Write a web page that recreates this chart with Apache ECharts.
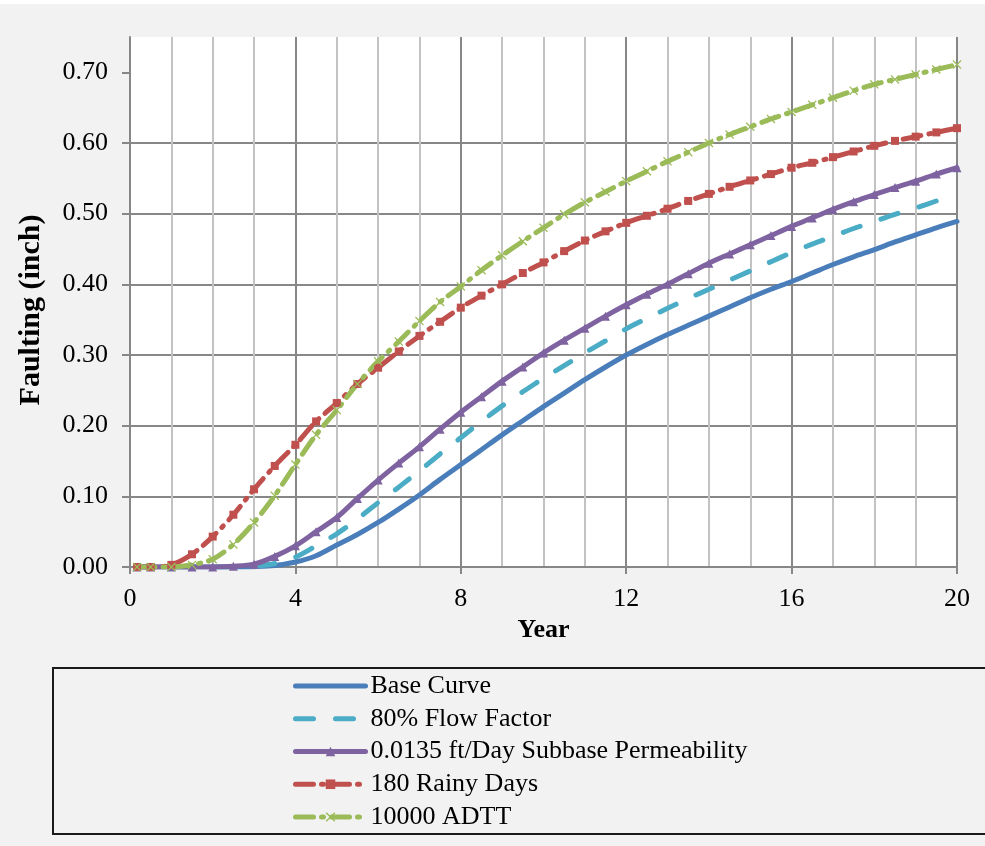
<!DOCTYPE html>
<html>
<head>
<meta charset="utf-8">
<script src="https://cdn.jsdelivr.net/npm/echarts@6/dist/echarts.min.js"></script>
<style>
html,body{margin:0;padding:0;background:#ffffff;width:985px;height:846px;overflow:hidden;}
#chart{position:absolute;left:0;top:4px;width:985px;height:842px;}
</style>
</head>
<body>
<div id="chart"></div>
<script>
// ---- data ----
var years = [0.17, 0.5, 1, 1.5, 2, 2.5, 3, 3.5, 4, 4.5, 5, 5.5, 6, 6.5, 7, 7.5, 8, 8.5, 9, 9.5, 10,
             10.5, 11, 11.5, 12, 12.5, 13, 13.5, 14, 14.5, 15, 15.5, 16, 16.5, 17, 17.5, 18, 18.5, 19, 19.5, 20];

var baseCurve = [0, 0, 0, 0, 0, 0, 0.0005, 0.002, 0.007, 0.016, 0.031, 0.046, 0.063, 0.082, 0.102, 0.124, 0.145, 0.166, 0.187, 0.207, 0.227,
                 0.246, 0.265, 0.283, 0.300, 0.315, 0.329, 0.342, 0.355, 0.368, 0.381, 0.393, 0.404, 0.416, 0.428, 0.439, 0.449, 0.460, 0.470, 0.480, 0.489];

var flowFactor80 = [0, 0, 0, 0, 0, 0, 0.001, 0.005, 0.014, 0.030, 0.047, 0.068, 0.091, 0.113, 0.136, 0.160, 0.183, 0.206, 0.228, 0.248, 0.267,
                    0.285, 0.303, 0.320, 0.337, 0.352, 0.366, 0.380, 0.393, 0.406, 0.419, 0.432, 0.445, 0.457, 0.468, 0.479, 0.489, 0.499, 0.508, 0.518, 0.528];

var subbasePerm = [0, 0, 0, 0, 0, 0.001, 0.004, 0.015, 0.030, 0.050, 0.070, 0.097, 0.123, 0.147, 0.170, 0.195, 0.219, 0.241, 0.263, 0.283, 0.303,
                   0.321, 0.338, 0.355, 0.371, 0.386, 0.400, 0.415, 0.430, 0.443, 0.456, 0.469, 0.482, 0.494, 0.506, 0.517, 0.527, 0.537, 0.546, 0.556, 0.565];

var rainyDays180 = [0, 0, 0.003, 0.018, 0.043, 0.074, 0.110, 0.143, 0.173, 0.206, 0.232, 0.259, 0.282, 0.305, 0.327, 0.347, 0.367, 0.384, 0.400, 0.416, 0.431,
                    0.447, 0.462, 0.475, 0.487, 0.497, 0.507, 0.518, 0.528, 0.538, 0.547, 0.556, 0.565, 0.572, 0.580, 0.588, 0.596, 0.603, 0.609, 0.615, 0.621];

var adtt10000 = [0, 0, 0, 0.003, 0.011, 0.032, 0.063, 0.101, 0.145, 0.187, 0.222, 0.259, 0.291, 0.319, 0.348, 0.375, 0.397, 0.420, 0.441, 0.461, 0.480,
                 0.499, 0.516, 0.531, 0.546, 0.560, 0.574, 0.587, 0.600, 0.612, 0.623, 0.634, 0.644, 0.654, 0.664, 0.674, 0.683, 0.690, 0.697, 0.704, 0.711];

var seriesNames = ['Base Curve', '80% Flow Factor', '0.0135 ft/Day Subbase Permeability', '180 Rainy Days', '10000 ADTT'];
var yTickValues = [0, 0.1, 0.2, 0.3, 0.4, 0.5, 0.6, 0.7];
var xTickValues = [0, 4, 8, 12, 16, 20];

// ---- chart ----
function pairs(arr) { return years.map(function (t, i) { return [t, arr[i]]; }); }

var FONT = '"Times New Roman", "Liberation Serif", serif';
var MAJOR = '#878787';
var MINOR = '#c3c3c3';
var LW = 5;
var X_SYMBOL = 'path://M1,0L5,4L9,0L10,1L6,5L10,9L9,10L5,6L1,10L0,9L4,5L0,1Z';
var HIDDEN_MARK = { color: 'rgba(0,0,0,0)', borderWidth: 0, opacity: 0 };

var chart = echarts.init(document.getElementById('chart'), null, { renderer: 'canvas' });

var option = {
  backgroundColor: '#f2f2f2',
  animation: false,
  textStyle: { fontFamily: FONT },
  grid: {
    left: 130, right: 28, top: 33, bottom: 279,
    show: true, backgroundColor: '#ffffff', borderWidth: 0
  },
  xAxis: {
    type: 'value', min: 0, max: 20, interval: 4,
    name: 'Year', nameLocation: 'middle', nameGap: 48,
    nameTextStyle: { fontFamily: FONT, fontSize: 26, fontWeight: 'bold', color: '#000' },
    axisLine: { show: true, onZero: false, lineStyle: { color: MAJOR, width: 2 } },
    axisTick: { show: true, length: 7, lineStyle: { color: MAJOR, width: 2 } },
    axisLabel: { fontFamily: FONT, fontSize: 26, color: '#000', margin: 19,
                 formatter: function (v) { return xTickValues.indexOf(v) >= 0 ? String(v) : ''; } },
    splitLine: { show: true, lineStyle: { color: MAJOR, width: 2 } },
    minorTick: { show: false, splitNumber: 4 },
    minorSplitLine: { show: true, lineStyle: { color: MINOR, width: 2 } }
  },
  yAxis: {
    type: 'value', min: 0, max: 0.75, interval: 0.1,
    name: 'Faulting (inch)', nameLocation: 'middle', nameGap: 84, nameRotate: 90,
    nameTextStyle: { fontFamily: FONT, fontSize: 30, fontWeight: 'bold', color: '#000', padding: [0, 16, 0, 0] },
    axisLine: { show: true, lineStyle: { color: MAJOR, width: 2 } },
    axisTick: { show: true, length: 8, customValues: yTickValues, lineStyle: { color: MAJOR, width: 2 } },
    axisLabel: { fontFamily: FONT, fontSize: 26, color: '#000', margin: 22, customValues: yTickValues,
                 formatter: function (v) { return v.toFixed(2); } },
    splitLine: { show: true, showMaxLine: false, lineStyle: { color: MAJOR, width: 2 } }
  },
  legend: {
    orient: 'vertical',
    left: 53, top: 664,
    padding: [5, 260, 4, 240],
    borderColor: '#1a1a1a', borderWidth: 2,
    backgroundColor: '#f2f2f2',
    itemWidth: 70, itemHeight: 12, itemGap: 6.75,
    selectedMode: false,
    lineStyle: { width: LW },
    textStyle: { fontFamily: FONT, fontSize: 26, lineHeight: 26, color: '#000' },
    data: [
      { name: seriesNames[0], itemStyle: HIDDEN_MARK },
      { name: seriesNames[1], itemStyle: HIDDEN_MARK },
      { name: seriesNames[2] },
      { name: seriesNames[3] },
      { name: seriesNames[4] }
    ]
  },
  series: [
    {
      name: seriesNames[0], type: 'line', data: pairs(baseCurve), smooth: 0.3,
      symbol: 'none', showSymbol: false,
      lineStyle: { color: '#4a7ebb', width: LW, cap: 'round' },
      itemStyle: { color: '#4a7ebb' }
    },
    {
      name: seriesNames[1], type: 'line', data: pairs(flowFactor80), smooth: 0.3,
      symbol: 'none', showSymbol: false,
      lineStyle: { color: '#4bacc6', width: LW, type: [18, 22], cap: 'round' },
      itemStyle: { color: '#4bacc6' }
    },
    {
      name: seriesNames[2], type: 'line', data: pairs(subbasePerm), smooth: 0.3,
      symbol: 'triangle', symbolSize: 9, showSymbol: true,
      lineStyle: { color: '#7f63a1', width: LW, cap: 'round' },
      itemStyle: { color: '#7f63a1' }
    },
    {
      name: seriesNames[3], type: 'line', data: pairs(rainyDays180), smooth: 0.3,
      symbol: 'rect', symbolSize: 8, showSymbol: true,
      lineStyle: { color: '#c0504d', width: LW, type: [18, 8, 2, 8], cap: 'round' },
      itemStyle: { color: '#c0504d' }
    },
    {
      name: seriesNames[4], type: 'line', data: pairs(adtt10000), smooth: 0.3,
      symbol: X_SYMBOL, symbolSize: 9, showSymbol: true,
      lineStyle: { color: '#9bbb59', width: LW, type: [18, 8, 2, 8], cap: 'round' },
      itemStyle: { color: '#9bbb59' }
    }
  ]
};
chart.setOption(option);
</script>
</body>
</html>
